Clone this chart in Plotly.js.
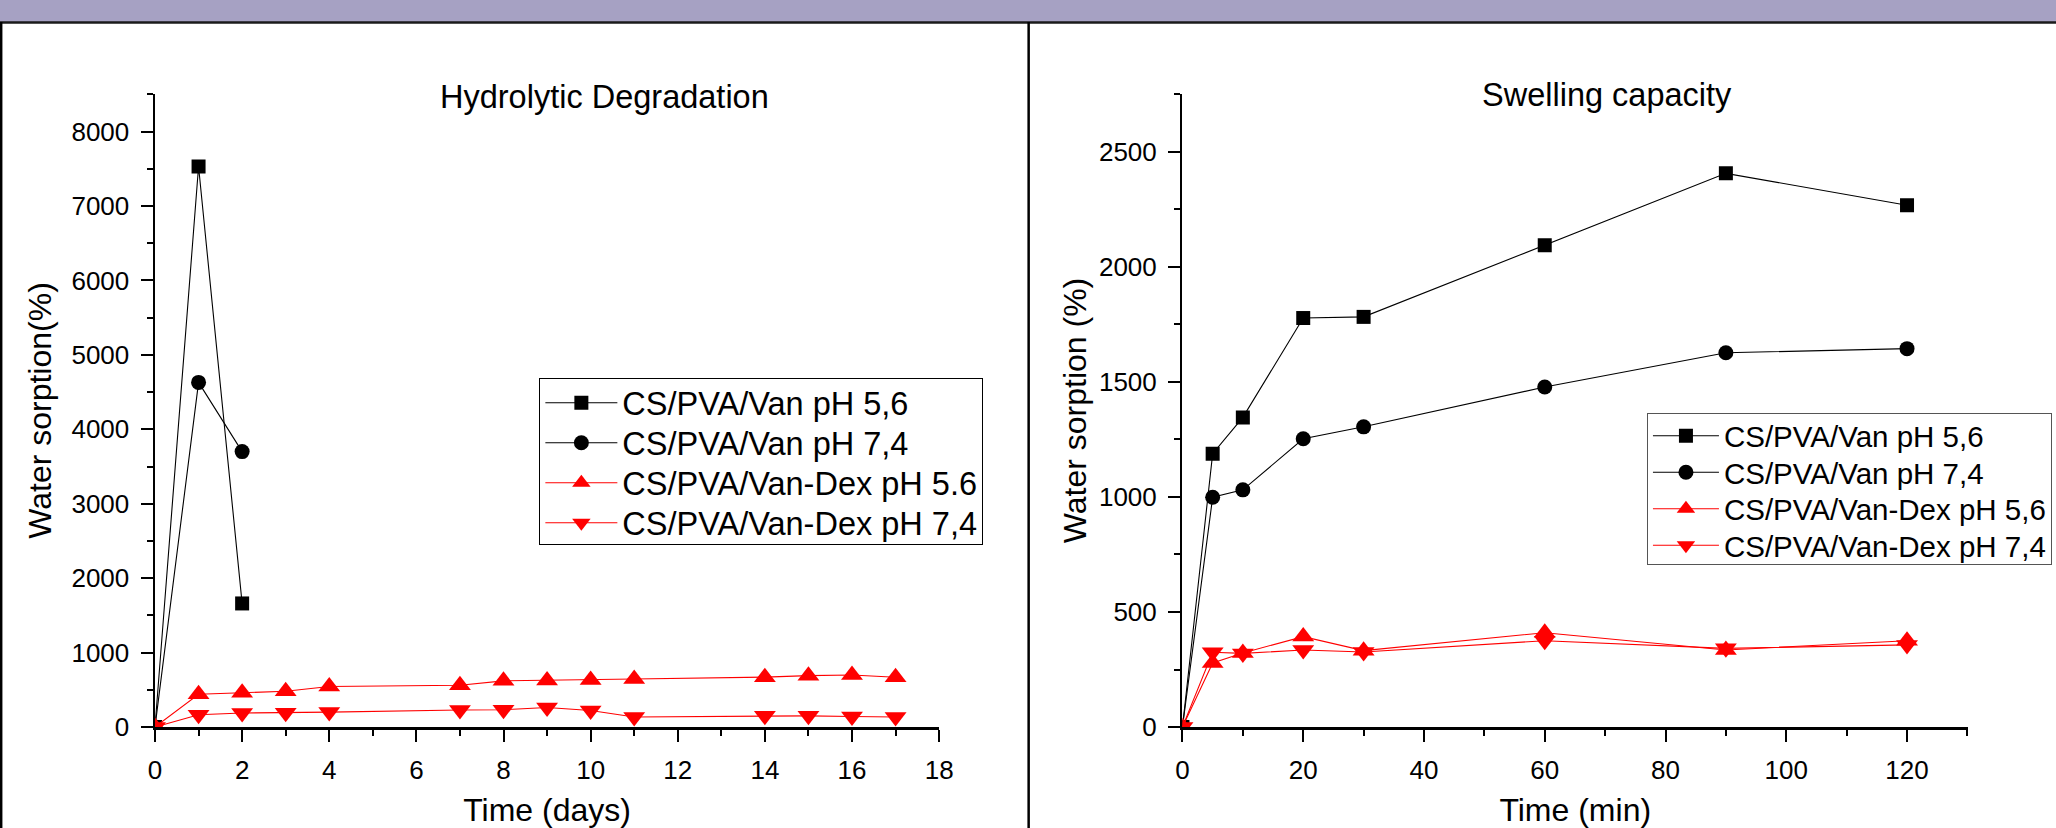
<!DOCTYPE html>
<html><head><meta charset="utf-8">
<script src="https://cdn.plot.ly/plotly-3.0.1.min.js"></script>
<style>html,body{margin:0;padding:0;background:#fff;overflow:hidden;} #chart{width:2056px;height:828px;}</style>
</head><body><div id="chart"></div>
<script>
// ---- Data: Hydrolytic degradation (time in days) ----
const degDaysVan = [0, 1, 2];
const degVanPH56 = [0, 7530, 1660];
const degVanPH74 = [0, 4630, 3700];
const degDaysDex = [0, 1, 2, 3, 4, 7, 8, 9, 10, 11, 14, 15, 16, 17];
const degDexPH56 = [0, 440, 460, 480, 545, 560, 620, 625, 630, 645, 670, 690, 698, 668];
const degDexPH74 = [0, 165, 188, 192, 200, 228, 232, 262, 222, 135, 150, 150, 142, 135];

// ---- Data: Swelling capacity (time in min) ----
const swTime = [0, 5, 10, 20, 30, 60, 90, 120];
const swVanPH56 = [0, 1188, 1346, 1778, 1783, 2094, 2407, 2268];
const swVanPH74 = [0, 999, 1031, 1253, 1305, 1478, 1627, 1645];
const swDexPH56 = [0, 278, 322, 393, 332, 410, 335, 375];
const swDexPH74 = [0, 325, 320, 335, 326, 375, 342, 357];

// ---- Text ----
const namesLeft = ['CS/PVA/Van pH 5,6', 'CS/PVA/Van pH 7,4', 'CS/PVA/Van-Dex pH 5.6', 'CS/PVA/Van-Dex pH 7,4'];
const namesRight = ['CS/PVA/Van pH 5,6', 'CS/PVA/Van pH 7,4', 'CS/PVA/Van-Dex pH 5,6', 'CS/PVA/Van-Dex pH 7,4'];
const chartTitles = ['Hydrolytic Degradation', 'Swelling capacity'];
const xTitles = ['Time (days)', 'Time (min)'];
const yTitles = ['Water sorption(%)', 'Water sorption (%)'];

// ---- Geometry (pixels) ----
const W = 2056, H = 828;
const PL = 155, PR = 1967.7, PT = 94, PB = 727;
const leftAxisEnd = 939, rightAxisStart = 1182.3;
const pw = PR - PL, ph = PB - PT;
const xp = px => (px - PL) / pw;
const yp = py => (PB - py) / ph;

const FONT = '"Liberation Sans", Arial, Helvetica, sans-serif';
const BLACK = '#000000', RED = '#ff0000';

function tr(x, y, name, color, symbol, size, xa, ya, lg) {
  return {
    x: x, y: y, name: name, type: 'scatter', mode: 'lines+markers',
    xaxis: xa, yaxis: ya, legend: lg,
    line: {color: color, width: 1.1},
    marker: {color: color, symbol: symbol, size: size, line: {width: 0}}
  };
}

const data = [
  tr(degDaysVan, degVanPH56, namesLeft[0], BLACK, 'square', 14, 'x', 'y', 'legend'),
  tr(degDaysVan, degVanPH74, namesLeft[1], BLACK, 'circle', 15, 'x', 'y', 'legend'),
  tr(degDaysDex, degDexPH56, namesLeft[2], RED, 'triangle-up', 19, 'x', 'y', 'legend'),
  tr(degDaysDex, degDexPH74, namesLeft[3], RED, 'triangle-down', 19, 'x', 'y', 'legend'),
  tr(swTime, swVanPH56, namesRight[0], BLACK, 'square', 14, 'x2', 'y2', 'legend2'),
  tr(swTime, swVanPH74, namesRight[1], BLACK, 'circle', 15, 'x2', 'y2', 'legend2'),
  tr(swTime, swDexPH56, namesRight[2], RED, 'triangle-up', 19, 'x2', 'y2', 'legend2'),
  tr(swTime, swDexPH74, namesRight[3], RED, 'triangle-down', 19, 'x2', 'y2', 'legend2')
];

const tickFont = {family: FONT, size: 26, color: BLACK};
const titleFont = {family: FONT, size: 32, color: BLACK};
function axis(extra, minorDtick) {
  return Object.assign({
    showline: true, linecolor: BLACK, linewidth: 2.5, mirror: false,
    ticks: 'outside', ticklen: 12, tickwidth: 2, tickcolor: BLACK,
    showgrid: false, zeroline: false, tickfont: tickFont, fixedrange: true,
    ticklabelstandoff: 6,
    minor: {ticks: 'outside', ticklen: 6, tickwidth: 2, tickcolor: BLACK, dtick: minorDtick, showgrid: false}
  }, extra);
}

const layout = {
  width: W, height: H,
  margin: {l: PL, r: W - PR, t: PT, b: H - PB, autoexpand: false},
  paper_bgcolor: '#ffffff', plot_bgcolor: 'rgba(0,0,0,0)',
  font: {family: FONT, color: BLACK},
  showlegend: true,
  xaxis: axis({domain: [0, xp(leftAxisEnd)], range: [0, 18], tick0: 0, dtick: 2, anchor: 'y',
    title: {text: xTitles[0], font: titleFont, standoff: 22}}, 1),
  yaxis: axis({domain: [0, 1], range: [0, 8505], tick0: 0, dtick: 1000, anchor: 'x',
    title: {text: yTitles[0], font: titleFont, standoff: 11}}, 500),
  xaxis2: axis({domain: [xp(rightAxisStart), 1], range: [0, 130.1], tick0: 0, dtick: 20, anchor: 'y2',
    title: {text: xTitles[1], font: titleFont, standoff: 22}}, 10),
  yaxis2: axis({domain: [0, 1], range: [0, 2752], tick0: 0, dtick: 500, anchor: 'x2',
    title: {text: yTitles[1], font: titleFont, standoff: 3}}, 250),
  legend: {x: xp(539.3), y: yp(377.7), xanchor: 'left', yanchor: 'top',
    bgcolor: '#ffffff', bordercolor: '#000000', borderwidth: 1,
    font: {family: FONT, size: 32.5, color: BLACK}, itemwidth: 72, tracegroupgap: 0, traceorder: 'normal'},
  legend2: {x: xp(1646.7), y: yp(412.7), xanchor: 'left', yanchor: 'top',
    bgcolor: '#ffffff', bordercolor: '#555555', borderwidth: 1,
    font: {family: FONT, size: 29.5, color: BLACK}, itemwidth: 66, tracegroupgap: 0, traceorder: 'normal'},
  annotations: [
    {text: chartTitles[0], xref: 'paper', yref: 'paper', x: xp(604.5), y: yp(97), xanchor: 'center', yanchor: 'middle',
      showarrow: false, font: {family: FONT, size: 32.5, color: BLACK}},
    {text: chartTitles[1], xref: 'paper', yref: 'paper', x: xp(1606.5), y: yp(95), xanchor: 'center', yanchor: 'middle',
      showarrow: false, font: {family: FONT, size: 32.5, color: BLACK}}
  ],
  shapes: [
    {type: 'rect', xref: 'paper', yref: 'paper', x0: xp(0), x1: xp(W), y0: yp(22), y1: yp(0),
      fillcolor: '#a6a1c3', line: {width: 0}, layer: 'below'},
    {type: 'line', xref: 'paper', yref: 'paper', x0: xp(0), x1: xp(W), y0: yp(22.5), y1: yp(22.5),
      line: {color: '#1a1a1a', width: 2.5}},
    {type: 'line', xref: 'paper', yref: 'paper', x0: xp(1.2), x1: xp(1.2), y0: yp(22), y1: yp(H),
      line: {color: '#000000', width: 2.5}},
    {type: 'line', xref: 'paper', yref: 'paper', x0: xp(1028.5), x1: xp(1028.5), y0: yp(22), y1: yp(H),
      line: {color: '#000000', width: 2.5}}
  ]
};

// Tighten legend row spacing to match the original figure (rows closer than Plotly's default line height)
function tightenLegend(gd, cls, firstRow, rowStep, boxHeight) {
  const g = gd.querySelector('g.' + cls);
  if (!g) return;
  g.querySelectorAll('g.traces').forEach((t, i) => {
    const m = /translate\(\s*([-\d.e]+)[\s,]+([-\d.e]+)\s*\)/.exec(t.getAttribute('transform') || '');
    const x = m ? parseFloat(m[1]) : 1;
    t.setAttribute('transform', 'translate(' + x + ',' + (firstRow + i * rowStep) + ')');
  });
  const bg = g.querySelector('rect.bg');
  if (bg) bg.setAttribute('height', boxHeight);
}

Plotly.newPlot('chart', data, layout, {displayModeBar: false, staticPlot: true}).then(gd => {
  tightenLegend(gd, 'legend', 25, 40, 166);
  tightenLegend(gd, 'legend2', 23, 36.5, 151.3);
});
</script>
</body></html>
